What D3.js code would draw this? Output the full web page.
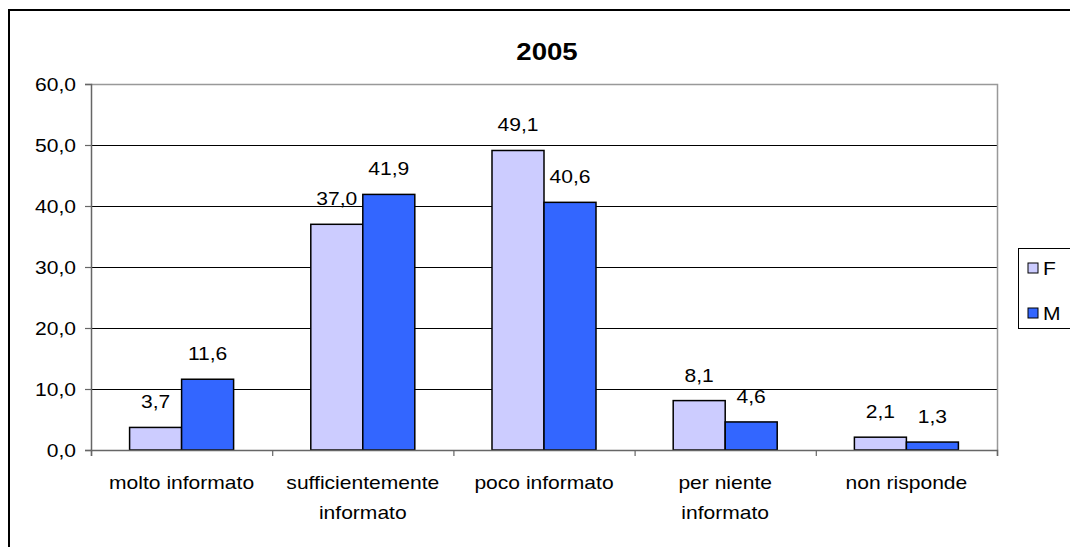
<!DOCTYPE html>
<html>
<head>
<meta charset="utf-8">
<script src="https://cdn.jsdelivr.net/npm/d3@7"></script>
<style>
  html, body { margin: 0; padding: 0; background: #fff; }
  svg { display: block; }
  text { font-family: "Liberation Sans", Arial, sans-serif; fill: #000; }
</style>
</head>
<body>
<svg id="chart" width="1070" height="547"></svg>
<script>
const categories = [["molto informato"], ["sufficientemente", "informato"], ["poco informato"], ["per niente", "informato"], ["non risponde"]];
const seriesNames = ["F", "M"];
const valuesF = [3.7, 37.0, 49.1, 8.1, 2.1];
const valuesM = [11.6, 41.9, 40.6, 4.6, 1.3];
const yTicks = [0, 10, 20, 30, 40, 50, 60];
const title = "2005";
const colors = ["#CCCCFF", "#3366FF"];

const svg = d3.select("#chart");
const SX = 1.17;       // horizontal stretch of text as in the reference
const FS = 18;

function stretchedText(g, x, y, str, anchor, size, weight, sx) {
  return g.append("text")
    .attr("transform", `translate(${x},${y}) scale(${sx},1)`)
    .attr("text-anchor", anchor)
    .style("font-size", size + "px")
    .style("font-weight", weight || "normal")
    .text(str);
}

// outer frame
svg.append("rect").attr("x", 9).attr("y", 10).attr("width", 1100).attr("height", 600)
  .attr("fill", "#fff").attr("stroke", "#000").attr("stroke-width", 2);

const plot = { left: 91, right: 997, top: 84, bottom: 450 };
const x0 = d3.scaleBand().domain(d3.range(categories.length)).range([plot.left, plot.right]).paddingInner(0).paddingOuter(0);
const y = d3.scaleLinear().domain([0, 60]).range([plot.bottom, plot.top]);
const barW = x0.bandwidth() * 0.287;
const x1 = d3.scaleBand().domain(seriesNames).range([0, barW * 2]);
const groupOffset = (x0.bandwidth() - barW * 2) / 2;
const fmt = v => d3.format(".1f")(v).replace(".", ",");

// gridlines
svg.append("g").selectAll("line").data(yTicks.filter(t => t > 0 && t < 60)).join("line")
  .attr("x1", plot.left).attr("x2", plot.right)
  .attr("y1", d => Math.round(y(d)) + 0.5).attr("y2", d => Math.round(y(d)) + 0.5)
  .attr("stroke", "#000").attr("stroke-width", 1);
// plot area top and right border (gray)
svg.append("path")
  .attr("d", `M${plot.left},${plot.top + 0.5}H${plot.right + 0.5}V${plot.bottom}`)
  .attr("fill", "none").attr("stroke", "#999").attr("stroke-width", 1.5);

// bars
const data = categories.map((c, i) => ({ i, vals: [valuesF[i], valuesM[i]] }));
const groups = svg.append("g").selectAll("g").data(data).join("g")
  .attr("transform", d => `translate(${x0(d.i) + groupOffset},0)`);
groups.selectAll("rect").data(d => d.vals.map((v, k) => ({ v, k }))).join("rect")
  .attr("x", d => x1(seriesNames[d.k]))
  .attr("y", d => y(d.v))
  .attr("width", x1.bandwidth())
  .attr("height", d => y(0) - y(d.v))
  .attr("fill", d => colors[d.k])
  .attr("stroke", "#000").attr("stroke-width", 1.5);

// data labels
groups.each(function (d) {
  const g = d3.select(this);
  d.vals.forEach((v, k) => {
    stretchedText(g, x1(seriesNames[k]) + x1.bandwidth() / 2, y(v) - 19, fmt(v), "middle", FS, "normal", SX);
  });
});

// y axis
const yAxis = d3.axisLeft(y).tickValues(yTicks).tickSize(6).tickFormat("");
const ya = svg.append("g").attr("transform", `translate(${plot.left},0)`).call(yAxis);
ya.select(".domain").attr("stroke", "#666").attr("stroke-width", 1.5);
ya.selectAll(".tick line").attr("stroke", "#666").attr("stroke-width", 1.2);
yTicks.forEach(t => {
  stretchedText(svg, 76, y(t) + 6.5, fmt(t), "end", FS, "normal", SX);
});

// x axis
const xAxis = d3.axisBottom(d3.scaleLinear().domain([0, categories.length]).range([plot.left, plot.right]))
  .tickValues(d3.range(categories.length + 1)).tickSize(6).tickFormat("");
const xa = svg.append("g").attr("transform", `translate(0,${plot.bottom})`).call(xAxis);
xa.select(".domain").attr("stroke", "#666").attr("stroke-width", 1.5);
xa.selectAll(".tick line").attr("stroke", "#666").attr("stroke-width", 1.2);
categories.forEach((lines, i) => {
  lines.forEach((ln, j) => {
    stretchedText(svg, x0(i) + x0.bandwidth() / 2, 489 + j * 30, ln, "middle", FS, "normal", SX);
  });
});

// title
stretchedText(svg, 547, 60, title, "middle", 24, "bold", 1.15);

// legend
const lg = svg.append("g");
lg.append("rect").attr("x", 1018.5).attr("y", 248.5).attr("width", 100).attr("height", 80)
  .attr("fill", "#fff").attr("stroke", "#000").attr("stroke-width", 1);
seriesNames.forEach((s, k) => {
  const cy = 268 + k * 45;
  lg.append("rect").attr("x", 1028).attr("y", cy - 5).attr("width", 10).attr("height", 10)
    .attr("fill", colors[k]).attr("stroke", "#000").attr("stroke-width", 1);
  stretchedText(lg, 1043, cy + 6.5, s, "start", FS, "normal", SX);
});
</script>
</body>
</html>
